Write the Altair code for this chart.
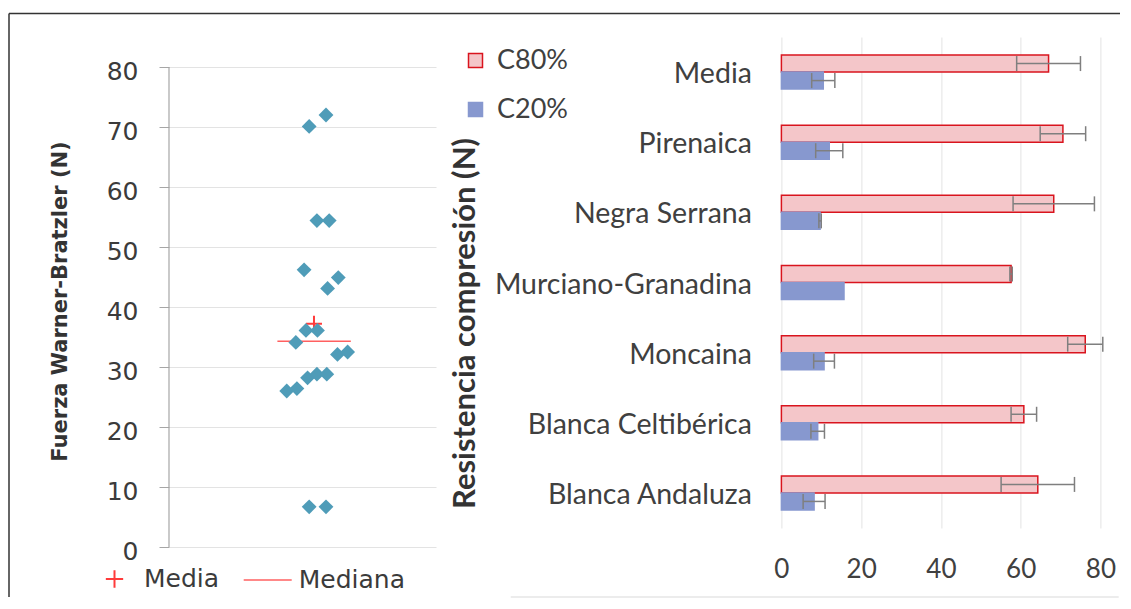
import altair as alt
import pandas as pd

# ---------------- Left panel: Warner-Bratzler force ----------------
wb_values = [70.1, 72.0, 54.4, 54.4, 46.2, 44.9, 43.1, 36.1, 36.1, 34.1,
             32.1, 32.5, 28.2, 28.8, 28.8, 26.0, 26.4, 6.7, 6.7]
wb_xpos = [52.5, 58.8, 55.4, 60.0, 50.6, 63.4, 59.4, 51.3, 55.6, 47.5,
           63.1, 66.9, 51.9, 55.4, 59.1, 44.1, 47.9, 52.5, 58.8]
media_val = [37.2]
media_x = [54.3]
mediana_val = [34.3]
mediana_x0 = [40.6]
mediana_x1 = [68.1]
left_ticks = [0, 10, 20, 30, 40, 50, 60, 70, 80]

# ---------------- Right panel: compression resistance ----------------
razas = ["Media", "Pirenaica", "Negra Serrana", "Murciano-Granadina",
         "Moncaina", "Blanca Celtibérica", "Blanca Andaluza"]
series = ["C80%", "C20%"]
c80_mean = [67.0, 70.6, 68.3, 57.6, 76.2, 60.8, 64.3]
c80_err = [8.0, 5.7, 10.2, 0.3, 4.4, 3.2, 9.2]
c20_mean = [10.5, 12.0, 9.7, 15.7, 10.7, 9.1, 8.2]
c20_err = [2.9, 3.4, 0.3, 0.0, 2.6, 1.7, 2.75]
right_ticks = [0, 20, 40, 60, 80]

PLUS = "M-1,0L1,0M0,-1L0,1"
DARK = "#3b3b3b"
RED = "#ff3b3b"

# ---- left chart ----
df_pts = pd.DataFrame({"x": wb_xpos, "y": wb_values})
df_mean = pd.DataFrame({"x": media_x, "y": media_val, "lab": ["Media"]})
df_med = pd.DataFrame({"x": mediana_x0, "x2": mediana_x1, "y": mediana_val, "lab": ["Mediana"]})
df_axis = pd.DataFrame({"a": [min(left_ticks)], "b": [max(left_ticks)]})
one = pd.DataFrame({"k": [0]})

xs = alt.Scale(domain=[0, 100], nice=False)
ys = alt.Scale(domain=[0, 85], nice=False, zero=True)
yaxis = alt.Axis(values=left_ticks, domain=False, tickColor="#a6a6a6", tickSize=10,
                 tickWidth=1, gridColor="#e3e3e3", labelFont="DejaVu Sans",
                 labelFontSize=25, labelColor=DARK, labelPadding=21, labelOffset=4,
                 labelFlush=False,
                 title="Fuerza Warner-Bratzler (N)", titleFont="DejaVu Sans",
                 titleFontSize=21, titleFontWeight="bold", titleColor="#333333",
                 titleX=-109, titleY=264, titleAngle=270, titleAlign="center",
                 titleBaseline="middle")


def X(f):
    return alt.X(f, scale=xs, axis=None)


def Y(f):
    return alt.Y(f, scale=ys, axis=yaxis)


frameL = alt.Chart(one).mark_rule(color="#333333", strokeWidth=1.5).encode(
    x=alt.value(-160), y=alt.value(-23.5), y2=alt.value(560))
frameT = alt.Chart(one).mark_rule(color="#333333", strokeWidth=1.5).encode(
    x=alt.value(-160), x2=alt.value(951), y=alt.value(-23.5))

axisline = alt.Chart(df_axis).mark_rule(color="#a6a6a6", strokeWidth=1.2).encode(
    x=alt.value(0), y=Y("a:Q"), y2="b:Q")

median_rule = alt.Chart(df_med).mark_rule(strokeWidth=1.5).encode(
    x=X("x:Q"), x2="x2:Q", y=Y("y:Q"),
    color=alt.Color("lab:N", scale=alt.Scale(domain=["Mediana"], range=["#ff6060"]),
                    legend=alt.Legend(title=None, orient="none", legendX=73.7, legendY=518,
                                      symbolType="stroke", symbolSize=2304,
                                      symbolStrokeWidth=1.5, labelFont="DejaVu Sans",
                                      labelFontSize=25, labelColor=DARK, labelOffset=6,
                                      padding=0)))

mean_pt = alt.Chart(df_mean).mark_point(filled=False, size=256, strokeWidth=2,
                                        color=RED, opacity=1).encode(
    x=X("x:Q"), y=Y("y:Q"),
    shape=alt.Shape("lab:N", scale=alt.Scale(domain=["Media"], range=[PLUS]),
                    legend=alt.Legend(title=None, orient="none", legendX=-67, legendY=529.5,
                                      symbolSize=300, symbolStrokeWidth=2,
                                      symbolStrokeColor=RED, symbolFillColor="transparent",
                                      labelFont="DejaVu Sans", labelFontSize=25,
                                      labelColor=DARK, labelOffset=17, padding=0)))

diamonds = alt.Chart(df_pts).mark_point(shape="diamond", filled=True, size=220,
                                        color="#4f9cb8", opacity=1).encode(
    x=X("x:Q"), y=Y("y:Q"))

left = alt.layer(frameL, frameT, axisline, median_rule, mean_pt, diamonds).properties(
    width=267, height=510)

# ---- right chart ----
rows = []
for i, r in enumerate(razas):
    rows.append({"raza": r, "serie": "C80%", "val": c80_mean[i], "err": c80_err[i]})
    rows.append({"raza": r, "serie": "C20%", "val": c20_mean[i], "err": c20_err[i]})
df_r = pd.DataFrame(rows)

xs_r = alt.Scale(domain=[0, 80], nice=False)
xaxis_r = alt.Axis(values=right_ticks, domain=False, ticks=False, tickSize=0, grid=True,
                   gridColor="#e3e3e3", labelFont="Lato", labelFontSize=26,
                   labelColor="#404040", labelPadding=41, labelBaseline="middle",
                   labelFlush=False, title=None)
yaxis_r = alt.Axis(domain=False, ticks=False, tickSize=0, grid=False, labelFont="Lato",
                   labelFontSize=28.5, labelColor="#404040", labelPadding=30, labelOffset=2,
                   labelLimit=500, title="Resistencia compresión (N)", titleFont="Lato",
                   titleFontSize=31, titleFontWeight="bold", titleColor="#333333",
                   titleX=-316, titleY=286, titleAngle=270, titleAlign="center",
                   titleBaseline="middle")
ys_r = alt.Scale(domain=razas, paddingInner=0.515, paddingOuter=0.2575)
yoff = alt.YOffset("serie:N", sort=series,
                   scale=alt.Scale(domain=series, paddingInner=0, paddingOuter=0))
# legends of concatenated views are positioned from the first panel's origin
leg_r = alt.Legend(title=None, orient="none", legendX=293, legendY=10, symbolType="square",
                   symbolSize=196, symbolStrokeWidth=1.5, labelFont="Lato", labelFontSize=27,
                   labelColor="#404040", labelOffset=8, rowPadding=21, padding=0,
                   direction="vertical")


def YR():
    return alt.Y("raza:N", sort=razas, scale=ys_r, axis=yaxis_r)


bars = alt.Chart(df_r).mark_bar(strokeWidth=1.5, opacity=1).encode(
    y=YR(), yOffset=yoff,
    x=alt.X("val:Q", scale=xs_r, axis=xaxis_r),
    fill=alt.Fill("serie:N", scale=alt.Scale(domain=series, range=["#f4c6c9", "#8798cf"]),
                  legend=leg_r),
    stroke=alt.Stroke("serie:N", scale=alt.Scale(domain=series, range=["#d9141e", "#8798cf"]),
                      legend=leg_r),
)

errs = alt.Chart(df_r).transform_filter("datum.err > 0").transform_calculate(
    lo="datum.val - datum.err", hi="datum.val + datum.err")
err_rule = errs.mark_rule(color="#7f7f7f", strokeWidth=1.5).encode(
    y=YR(), yOffset=yoff, x=alt.X("lo:Q", scale=xs_r, axis=xaxis_r), x2="hi:Q")
cap_lo = errs.mark_tick(color="#7f7f7f", size=15, thickness=1.5, opacity=1).encode(
    y=YR(), yOffset=yoff, x=alt.X("lo:Q", scale=xs_r, axis=xaxis_r))
cap_hi = errs.mark_tick(color="#7f7f7f", size=15, thickness=1.5, opacity=1).encode(
    y=YR(), yOffset=yoff, x=alt.X("hi:Q", scale=xs_r, axis=xaxis_r))

bottom = alt.Chart(one).mark_rule(color="#d9d9d9", strokeWidth=1.2).encode(
    x=alt.value(-270.7), x2=alt.value(337.3), y=alt.value(560))

right = alt.layer(bars, err_rule, cap_lo, cap_hi, bottom).properties(width=319, height=491)

chart = alt.hconcat(left, right, spacing=345.4, bounds="flush").properties(
    padding={"top": 4, "left": 0, "right": 0, "bottom": 0},
    background="white",
).configure_view(strokeWidth=0)

chart.save("out.html", embed_options={"renderer": "svg", "actions": False})
